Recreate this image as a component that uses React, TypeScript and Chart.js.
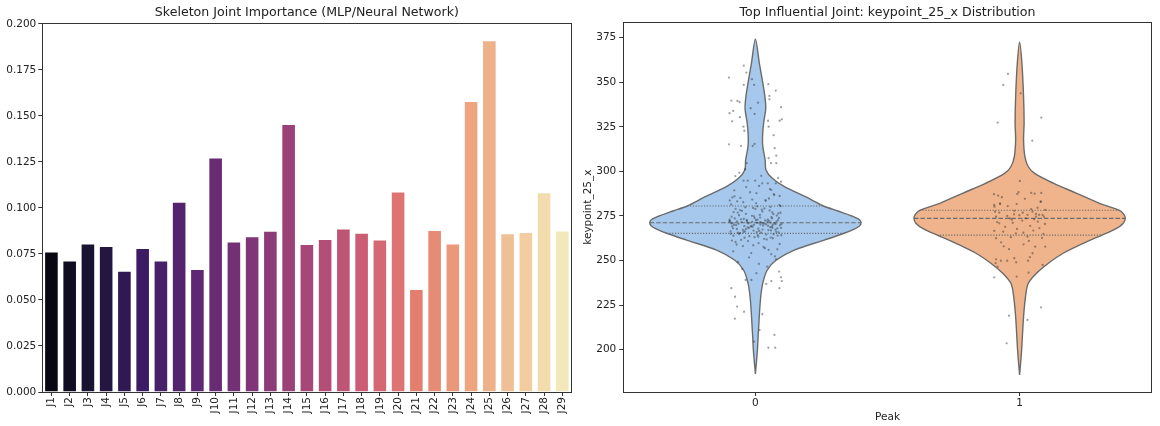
import React, { useEffect, useRef } from "react";
import { Chart, registerables } from "chart.js";
Chart.register(...registerables);

const FONT = "'DejaVu Sans', 'Liberation Sans', sans-serif";
const TEXT = "#222222";
const AXIS = "#333333";

// ---------- Left panel data ----------
const jointLabels = [
  "J1", "J2", "J3", "J4", "J5", "J6", "J7", "J8", "J9", "J10",
  "J11", "J12", "J13", "J14", "J15", "J16", "J17", "J18", "J19", "J20",
  "J21", "J22", "J23", "J24", "J25", "J26", "J27", "J28", "J29",
];
const jointImportance = [
  0.0763, 0.0714, 0.0807, 0.0793, 0.0659, 0.0782, 0.0714, 0.1034, 0.0668, 0.1274,
  0.0818, 0.0847, 0.0876, 0.1456, 0.0804, 0.0831, 0.0888, 0.0865, 0.0829, 0.1089,
  0.0560, 0.0881, 0.0807, 0.1582, 0.1911, 0.0863, 0.0869, 0.1086, 0.0878,
];
const importanceTicks = [0, 0.025, 0.05, 0.075, 0.1, 0.125, 0.15, 0.175, 0.2];

// ---------- Right panel data ----------
const peakGroups = [0, 1];
const keypointTicks = [200, 225, 250, 275, 300, 325, 350, 375];

// violin outline: value -> half width (category units)
const violin0Y = [186.4, 199.8, 209.2, 227.9, 237.3, 244.7, 250.3, 255.9, 261.5, 265.3, 267.6, 269.4, 271.2, 273.0, 275.0, 277.8, 280.6, 285.8, 291.4, 296.1, 300.8, 306.4, 313.9, 319.5, 327.0, 335.0, 341.9, 351.3, 360.6, 374.3];
const violin0W = [0, 0.0076, 0.011, 0.019, 0.028, 0.045, 0.079, 0.147, 0.261, 0.336, 0.374, 0.394, 0.40, 0.393, 0.365, 0.312, 0.258, 0.190, 0.110, 0.064, 0.040, 0.037, 0.028, 0.027, 0.031, 0.039, 0.036, 0.026, 0.015, 0];
const violin1Y = [185.8, 199.8, 218.5, 231.6, 237.3, 242.9, 248.5, 254.1, 259.7, 264.3, 267.6, 270.8, 273.7, 276.0, 278.2, 282.1, 287.7, 293.3, 298.9, 302.6, 308.3, 317.6, 327.0, 341.9, 360.6, 372.4];
const violin1W = [0, 0.0076, 0.015, 0.024, 0.033, 0.064, 0.109, 0.165, 0.241, 0.312, 0.362, 0.392, 0.40, 0.394, 0.378, 0.302, 0.216, 0.129, 0.057, 0.033, 0.020, 0.015, 0.017, 0.015, 0.0087, 0];

// quartiles [q1, median, q3] and their half widths
const quart0 = [265.3, 271.2, 280.6];
const quart0W = [0.336, 0.40, 0.258];
const quart1 = [264.3, 273.6, 278.2];
const quart1W = [0.312, 0.40, 0.378];

// jittered observations [dx, value]
const strip0: [number, number][] = [
  [-0.044, 359.3], [-0.034, 355.4], [-0.1, 352.6], [-0.013, 351.7], [-0.005, 348.5], [0.049, 348.9], [-0.044, 348.5], [0.077, 345.3], [0.053, 342.3], [0.053, 340.4],
  [-0.091, 339.7], [-0.068, 339.5], [-0.06, 338.8], [0.01, 338.5], [0.097, 336.0], [-0.018, 335.4], [-0.084, 333.9], [-0.098, 332.6], [-0.003, 332.2], [-0.059, 330.4],
  [0.048, 328.4], [0.1, 329.2], [0.092, 328.4], [-0.088, 328.1], [0.05, 325.1], [-0.045, 325.1], [-0.042, 322.8], [0.069, 320.3], [-0.1, 315.2], [-0.01, 314.3],
  [-0.003, 315.4], [-0.055, 314.3], [0.073, 313.0], [0.05, 307.4], [0.079, 308.8], [0.079, 304.6], [0.059, 304.6], [-0.033, 304.6], [-0.039, 301.2], [-0.076, 297.4],
  [-0.045, 294.8], [-0.029, 294.8], [-0.001, 294.8], [0.097, 294.2], [0.077, 293.3], [0.06, 289.6], [0.014, 291.8], [0.026, 293.3], [0.047, 293.3],
  [0.097, 240.6], [0.1, 238.5], [0.091, 234.5], [-0.091, 234.5], [-0.077, 229.7], [-0.069, 224.2], [-0.043, 221.3], [-0.078, 217.4], [0.026, 219.9], [0.016, 211.0],
  [-0.005, 204.5], [0.072, 208.3], [0.049, 201.1], [0.075, 201.1], [-0.037, 239.1], [-0.015, 239.1], [0.06, 238.5], [0.041, 236.9], [0.004, 242.9],
  [-0.092, 281.5], [0.034, 279.2], [-0.051, 277.8], [0.087, 276.4], [-0.013, 275.1], [0.061, 274.3], [-0.078, 273.6], [0.008, 272.9], [-0.096, 272.2], [0.045, 271.8],
  [-0.031, 271.4], [0.072, 271.0], [-0.064, 270.6], [0.019, 270.2], [0.093, 269.8], [-0.042, 269.3], [0.056, 268.7], [-0.085, 268.1], [0.027, 267.4], [-0.007, 266.8],
  [0.079, 266.1], [-0.058, 265.4], [0.041, 264.6], [-0.023, 263.7], [0.066, 262.5], [-0.089, 261.2], [0.012, 259.8], [-0.047, 258.1], [0.083, 256.3], [-0.016, 254.2],
  [0.051, 284.8], [-0.069, 283.2], [0.003, 282.1], [0.095, 280.6], [-0.038, 279.9], [0.024, 278.6], [-0.082, 277.2], [0.068, 276.0], [-0.005, 274.8], [0.089, 273.9],
  [-0.055, 273.1], [0.037, 272.5], [-0.099, 271.9], [0.015, 271.2], [-0.027, 270.8], [0.076, 270.4], [-0.073, 269.9], [0.048, 269.5], [-0.011, 268.9], [0.097, 268.3],
  [-0.036, 267.6], [0.059, 266.9], [-0.094, 266.3], [0.021, 265.6], [-0.062, 264.9], [0.084, 264.0], [-0.003, 263.1], [0.043, 261.8], [-0.075, 260.4], [0.031, 257.6],
  [-0.02, 288.3], [0.071, 286.7], [-0.087, 285.4], [0.038, 283.9], [-0.046, 282.7], [0.091, 281.1], [-0.009, 279.5], [0.054, 278.1], [-0.067, 276.9], [0.017, 275.6],
  [-0.09, 274.6], [0.063, 273.7], [-0.033, 272.8], [0.08, 272.0], [-0.052, 271.6], [0.006, 271.1], [0.099, 270.5], [-0.081, 270.0], [0.029, 269.6], [-0.018, 269.0],
  [0.064, 268.4], [-0.07, 267.7], [0.049, 267.1], [-0.04, 266.4], [0.088, 265.8], [-0.093, 265.0], [0.009, 264.3], [0.058, 262.9], [-0.028, 260.9], [0.074, 252.4],
  [-0.061, 299.2], [0.022, 297.5], [0.086, 296.3], [-0.035, 291.2], [0.055, 290.1], [-0.08, 289.4], [0.004, 287.8], [0.092, 286.2], [-0.057, 285.1], [0.036, 256.9],
  [-0.084, 255.1], [0.06, 253.6], [-0.024, 251.8], [0.078, 250.7], [-0.066, 249.3], [0.013, 248.1], [0.045, 246.6], [-0.05, 245.2], [0.09, 243.8],
  [0.002, 272.6], [-0.044, 273.3], [0.028, 270.9], [-0.012, 271.7], [0.052, 272.3], [-0.07, 272.0], [0.066, 270.1], [-0.029, 268.6], [0.011, 267.9], [-0.088, 269.2],
  [0.095, 276.8], [-0.062, 275.4], [0.018, 274.1], [-0.098, 273.0], [0.041, 270.3], [-0.015, 269.4], [0.083, 268.0], [-0.047, 267.2], [0.005, 266.0], [0.069, 264.7],
  [-0.083, 263.9], [0.033, 262.2], [-0.054, 261.6], [0.092, 259.3], [-0.008, 258.6], [0.057, 280.1], [-0.075, 279.0], [0.026, 277.5], [-0.036, 276.2], [0.081, 275.2],
  [-0.003, 273.8], [0.047, 273.0], [-0.091, 270.8], [0.063, 269.1], [-0.025, 268.2], [0.014, 266.6], [-0.066, 265.7], [0.098, 264.2], [-0.041, 262.8], [0.039, 283.5],
  [-0.079, 286.0], [0.07, 287.2], [-0.012, 284.2], [0.0, 278.9], [-0.058, 278.3], [0.086, 272.7], [-0.032, 272.3], [0.02, 271.5], [0.058, 271.3], [-0.086, 271.0],
  [0.035, 270.7], [-0.006, 270.0], [0.076, 267.3], [-0.045, 266.0], [0.011, 263.4], [-0.071, 259.0], [0.05, 256.0], [-0.097, 283.7], [0.007, 280.4], [0.064, 277.0],
];
const strip1: [number, number][] = [
  [-0.044, 354.6], [-0.062, 348.5], [0.004, 343.8], [-0.083, 327.3], [0.082, 330.1], [0.048, 317.2], [0.001, 294.6], [-0.097, 287.2], [-0.081, 286.4], [-0.067, 285.5],
  [-0.009, 287.3], [-0.004, 288.3], [0.044, 287.9], [0.057, 287.5], [0.082, 287.9], [0.079, 283.0], [-0.074, 282.1], [-0.095, 280.2], [-0.093, 277.4], [-0.077, 276.9],
  [-0.021, 275.9], [0.049, 277.4], [0.074, 275.6], [-0.037, 273.7], [0.024, 273.7], [0.062, 274.6], [0.092, 274.6],
  [-0.096, 281.2], [-0.074, 281.7], [-0.011, 281.7], [0.044, 278.8], [0.081, 283.0], [0.097, 278.4], [-0.089, 274.6], [-0.047, 275.0], [-0.001, 275.4], [0.03, 275.6],
  [0.062, 276.1], [0.087, 275.6], [-0.077, 270.9], [-0.026, 271.2], [0.069, 271.8], [0.096, 270.5], [-0.096, 266.6], [-0.062, 266.2], [-0.014, 265.3], [0.014, 265.6],
  [0.052, 266.8], [-0.089, 262.5], [-0.033, 263.1], [0.03, 263.4], [0.097, 257.8], [0.059, 257.8], [-0.089, 250.7], [-0.071, 249.9], [-0.047, 249.9], [-0.02, 251.3],
  [0.032, 249.9], [0.039, 251.9], [-0.013, 249.0], [-0.091, 248.5], [0.049, 254.1], [-0.096, 240.6], [-0.011, 241.0], [0.034, 243.2], [0.081, 223.8], [-0.04, 219.1],
  [0.03, 216.7], [-0.049, 203.6], [-0.083, 246.6], [0.087, 247.5],
  [0.01, 272.4], [-0.055, 268.9], [0.04, 269.4], [-0.02, 277.9], [0.068, 279.6], [-0.07, 260.2], [0.015, 259.1], [0.085, 262.7], [-0.04, 256.4], [0.02, 284.6],
  [-0.03, 272.9], [0.055, 273.1], [-0.085, 271.6], [0.075, 268.2], [-0.01, 267.7], [0.035, 261.0], [-0.06, 258.0], [0.09, 265.0], [-0.045, 280.5], [0.012, 276.8],
];

// ---------- colour helpers (style only) ----------
const MAGMA = ["#000004", "#140e36", "#3b0f70", "#641a80", "#8c2981", "#b73779", "#de4968", "#f7705c", "#fe9f6d", "#fecf92", "#fcfdbf"];
function hexToRgb(h: string) {
  return [parseInt(h.slice(1, 3), 16) / 255, parseInt(h.slice(3, 5), 16) / 255, parseInt(h.slice(5, 7), 16) / 255];
}
function magma(t: number) {
  const p = t * (MAGMA.length - 1);
  const i = Math.min(Math.floor(p), MAGMA.length - 2);
  const f = p - i;
  const a = hexToRgb(MAGMA[i]);
  const b = hexToRgb(MAGMA[i + 1]);
  return [0, 1, 2].map((k) => a[k] + (b[k] - a[k]) * f);
}
function desaturate(rgb: number[], prop: number) {
  const [r, g, b] = rgb;
  const mx = Math.max(r, g, b), mn = Math.min(r, g, b);
  const l = (mx + mn) / 2;
  let h = 0, s = 0;
  if (mx !== mn) {
    const d = mx - mn;
    s = l > 0.5 ? d / (2 - mx - mn) : d / (mx + mn);
    if (mx === r) h = (g - b) / d + (g < b ? 6 : 0);
    else if (mx === g) h = (b - r) / d + 2;
    else h = (r - g) / d + 4;
    h /= 6;
  }
  s *= prop;
  const hue2rgb = (p: number, q: number, t: number) => {
    if (t < 0) t += 1;
    if (t > 1) t -= 1;
    if (t < 1 / 6) return p + (q - p) * 6 * t;
    if (t < 1 / 2) return q;
    if (t < 2 / 3) return p + (q - p) * (2 / 3 - t) * 6;
    return p;
  };
  let out: number[];
  if (s === 0) out = [l, l, l];
  else {
    const q = l < 0.5 ? l * (1 + s) : l + s - l * s;
    const p = 2 * l - q;
    out = [hue2rgb(p, q, h + 1 / 3), hue2rgb(p, q, h), hue2rgb(p, q, h - 1 / 3)];
  }
  return `rgb(${out.map((v) => Math.round(v * 255)).join(",")})`;
}
const barColors = jointLabels.map((_, i) => desaturate(magma((i + 1) / (jointLabels.length + 1)), 0.75));

const frameAndTitle = {
  id: "frameAndTitle",
  afterDraw(chart: any, _args: any, opts: any) {
    const { ctx, chartArea: a } = chart;
    ctx.save();
    ctx.strokeStyle = AXIS;
    ctx.lineWidth = 1;
    ctx.strokeRect(Math.round(a.left) + 0.5, Math.round(a.top) + 0.5, Math.round(a.right - a.left), Math.round(a.bottom - a.top));
    ctx.fillStyle = TEXT;
    ctx.font = `12.6px ${FONT}`;
    ctx.textAlign = "center";
    ctx.textBaseline = "middle";
    ctx.fillText(opts.text, (a.left + a.right) / 2, 12.3);
    ctx.restore();
  },
};

const tickFont = { family: FONT, size: 10.5 };

function violinOutline(center: number, ys: number[], ws: number[]) {
  const left = ys.map((y, i) => ({ x: center - ws[i], y }));
  const right = ys.slice(0, -1).reverse().map((y, j) => {
    const i = ys.length - 2 - j;
    return { x: center + ws[i], y };
  });
  return [...left, ...right];
}

export default function App() {
  const leftRef = useRef<HTMLCanvasElement>(null);
  const rightRef = useRef<HTMLCanvasElement>(null);

  useEffect(() => {
    const left = new Chart(leftRef.current!, {
      type: "bar",
      data: {
        labels: jointLabels,
        datasets: [
          {
            data: jointImportance,
            backgroundColor: barColors,
            borderColor: "rgba(255,255,255,0.45)",
            borderWidth: 1,
            barPercentage: 0.8,
            categoryPercentage: 1.0,
          },
        ],
      },
      plugins: [frameAndTitle],
      options: {
        animation: false,
        responsive: false,
        layout: { padding: { top: 22.7, right: 4.3, left: 0, bottom: 0 } },
        plugins: {
          legend: { display: false },
          tooltip: { enabled: false },
          frameAndTitle: { text: "Skeleton Joint Importance (MLP/Neural Network)" },
        } as any,
        scales: {
          x: {
            type: "category",
            offset: true,
            grid: { display: true, drawOnChartArea: false, drawTicks: true, tickLength: 4, color: AXIS, offset: false },
            border: { display: false },
            ticks: { autoSkip: false, minRotation: 90, maxRotation: 90, padding: 1, color: TEXT, font: tickFont },
            afterFit: (s: any) => { s.height = 34; },
          },
          y: {
            type: "linear",
            min: 0,
            max: 0.2007,
            grid: { display: true, drawOnChartArea: false, drawTicks: true, tickLength: 4, color: AXIS },
            border: { display: false },
            ticks: { padding: 2, color: TEXT, font: tickFont, callback: (v: any) => Number(v).toFixed(3) },
            afterBuildTicks: (s: any) => { s.ticks = importanceTicks.map((v) => ({ value: v })); },
            afterFit: (s: any) => { s.width = 42.3; },
          },
        },
      },
    });

    const fills = ["#a6c8ed", "#f0b48c"];
    const lineGray = "#6b6b6b";
    const violins = [
      { ys: violin0Y, ws: violin0W, q: quart0, qw: quart0W, pts: strip0 },
      { ys: violin1Y, ws: violin1W, q: quart1, qw: quart1W, pts: strip1 },
    ];
    const datasets: any[] = [];
    violins.forEach((v, gi) => {
      const c = peakGroups[gi];
      datasets.push({
        data: v.pts.map(([dx, y]) => ({ x: c + dx, y })),
        pointRadius: 1.15,
        pointBackgroundColor: "rgba(35,35,35,0.42)",
        pointBorderWidth: 0,
        showLine: false,
        order: 0,
      });
      v.q.forEach((qy, k) => {
        datasets.push({
          data: [{ x: c - v.qw[k], y: qy }, { x: c + v.qw[k], y: qy }],
          showLine: true,
          borderColor: lineGray,
          borderWidth: 1.2,
          borderDash: k === 1 ? [4.5, 2] : [1.2, 1.6],
          pointRadius: 0,
          fill: false,
          order: 1,
        });
      });
      datasets.push({
        data: violinOutline(c, v.ys, v.ws),
        showLine: true,
        tension: 0.3,
        borderColor: lineGray,
        borderWidth: 1.4,
        backgroundColor: fills[gi],
        fill: "shape",
        pointRadius: 0,
        order: 2,
      });
    });

    const right = new Chart(rightRef.current!, {
      type: "scatter",
      data: { datasets },
      plugins: [frameAndTitle],
      options: {
        animation: false,
        responsive: false,
        layout: { padding: { top: 22.3, right: 8.3, left: 0, bottom: 0 } },
        plugins: {
          legend: { display: false },
          tooltip: { enabled: false },
          frameAndTitle: { text: "Top Influential Joint: keypoint_25_x Distribution" },
        } as any,
        scales: {
          x: {
            type: "linear",
            min: -0.5,
            max: 1.5,
            grid: { display: true, drawOnChartArea: false, drawTicks: true, tickLength: 4, color: AXIS },
            border: { display: false },
            ticks: { padding: 1, color: TEXT, font: tickFont, callback: (v: any) => String(v) },
            afterBuildTicks: (s: any) => { s.ticks = peakGroups.map((v) => ({ value: v })); },
            title: { display: true, text: "Peak", color: TEXT, font: tickFont, padding: { top: 1, bottom: 2.4 } },
            afterFit: (s: any) => { s.height = 34; },
          },
          y: {
            type: "linear",
            min: 176.3,
            max: 383.6,
            grid: { display: true, drawOnChartArea: false, drawTicks: true, tickLength: 4, color: AXIS },
            border: { display: false },
            ticks: { padding: 3, color: TEXT, font: tickFont, callback: (v: any) => String(v) },
            afterBuildTicks: (s: any) => { s.ticks = keypointTicks.map((v) => ({ value: v })); },
            title: { display: true, text: "keypoint_25_x", color: TEXT, font: tickFont, padding: { top: 6, bottom: 0 } },
            afterFit: (s: any) => { s.width = 47.3; },
          },
        },
      },
    });

    return () => {
      left.destroy();
      right.destroy();
    };
  }, []);

  return (
    <div style={{ position: "fixed", left: 0, top: 0, width: 1160, height: 426, background: "#ffffff" }}>
      <canvas ref={leftRef} width={576} height={426} style={{ position: "absolute", left: 0, top: 0, width: 576, height: 426 }} />
      <canvas ref={rightRef} width={584} height={426} style={{ position: "absolute", left: 576, top: 0, width: 584, height: 426 }} />
    </div>
  );
}
